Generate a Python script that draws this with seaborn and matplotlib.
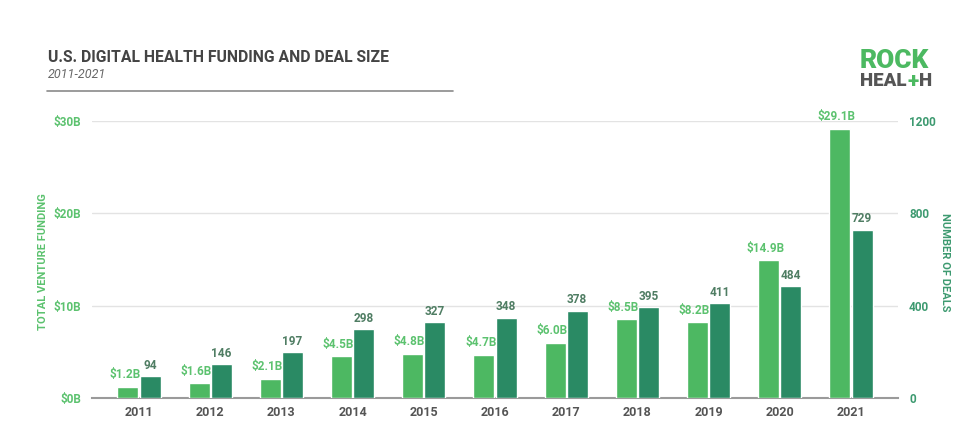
from matplotlib import pyplot as plt
import numpy as np
import pandas as pd
import seaborn as sns

years = ["2011", "2012", "2013", "2014", "2015", "2016", "2017", "2018", "2019", "2020", "2021"]
funding = [1.2, 1.6, 2.1, 4.5, 4.8, 4.7, 6.0, 8.5, 8.2, 14.9, 29.1]
deals = [94, 146, 197, 298, 327, 348, 378, 395, 411, 484, 729]
series = ["Funding", "Deals"]

LIGHT = "#4db862"
DARK = "#2a8a64"
LIGHT_TXT = "#5cc26f"
DARK_TXT = "#3d9a70"
DEAL_LBL = "#4f7d63"
GRAY = "#555555"

sns.set_style("white")
plt.rcParams["font.family"] = ["Roboto", "DejaVu Sans"]

n = len(years)
nan = [np.nan] * n
# each axis gets both hue levels so the dodge leaves room for the other series
df_fund = pd.DataFrame({"year": years * 2, "series": ["Funding"] * n + ["Deals"] * n,
                        "value": funding + nan})
df_deal = pd.DataFrame({"year": years * 2, "series": ["Funding"] * n + ["Deals"] * n,
                        "value": nan + deals})

fig = plt.figure(figsize=(9.69, 4.21), dpi=100)
ax = fig.add_axes([92 / 969, 23 / 421, (898 - 92) / 969, (398 - 120.7) / 421])
ax2 = ax.twinx()

pal = {"Funding": LIGHT, "Deals": DARK}
sns.barplot(data=df_fund, x="year", y="value", hue="series", hue_order=series,
            palette=pal, order=years, width=0.62, gap=0.05, ax=ax, legend=False,
            errorbar=None, saturation=1, zorder=3)
sns.barplot(data=df_deal, x="year", y="value", hue="series", hue_order=series,
            palette=pal, order=years, width=0.62, gap=0.05, ax=ax2, legend=False,
            errorbar=None, saturation=1, zorder=3)

ax.set_ylim(0, 30)
ax2.set_ylim(0, 1200)
ax.set_xlim(-0.66, 10.66)

# value labels (all drawn on the top axes so bars do not hide them)
for i, v in enumerate(funding):
    ax2.text(i - 0.2, v + 0.6, f"${v}B", ha="center", va="bottom",
             color=LIGHT_TXT, fontsize=8.5, fontweight="bold", clip_on=False,
             transform=ax.transData)
for i, v in enumerate(deals):
    ax2.text(i + 0.155, v + 18, str(v), ha="center", va="bottom",
             color=DEAL_LBL, fontsize=8.5, fontweight="bold", clip_on=False)

ax.set_yticks([0, 10, 20, 30])
ax.set_yticklabels(["$0B", "$10B", "$20B", "$30B"])
ax2.set_yticks([0, 400, 800, 1200])
ax.tick_params(axis="y", length=0, pad=8, labelsize=8.5, labelcolor=LIGHT_TXT)
ax2.tick_params(axis="y", length=0, pad=8, labelsize=8.5, labelcolor=DARK_TXT)
for lab in ax.get_yticklabels() + ax2.get_yticklabels():
    lab.set_fontweight("bold")
ax.tick_params(axis="x", length=0, pad=6, labelsize=9, labelcolor=GRAY)
for lab in ax.get_xticklabels():
    lab.set_fontweight("bold")

ax.grid(axis="y", color="#e3e3e3", linewidth=1, zorder=0)
ax2.grid(False)
ax.set_axisbelow(True)
for a in (ax, ax2):
    for s in a.spines.values():
        s.set_visible(False)
ax.spines["bottom"].set_visible(True)
ax.spines["bottom"].set_color("#9a9a9a")
ax.spines["bottom"].set_linewidth(1.5)
ax.set_xlabel("")
ax.set_ylabel("")
ax2.set_ylabel("")

fig.text(43.5 / 969, 1 - 262 / 421, "TOTAL VENTURE FUNDING", rotation=90,
         ha="center", va="center", color=LIGHT_TXT, fontsize=8, fontweight="bold")
fig.text(945 / 969, 1 - 262 / 421, "NUMBER OF DEALS", rotation=-90,
         ha="center", va="center", color=DARK_TXT, fontsize=8, fontweight="bold")

# title block
fig.text(48 / 969, 1 - 57 / 421, "U.S. DIGITAL HEALTH FUNDING AND DEAL SIZE",
         ha="left", va="center", color="#444444", fontsize=11.3, fontweight="bold")
fig.text(48 / 969, 1 - 75 / 421, "2011-2021", ha="left", va="center",
         color="#666666", fontsize=9, style="italic")
fig.add_artist(plt.Line2D([47 / 969, 453 / 969], [1 - 91 / 421, 1 - 91 / 421],
                          color="#8a8a8a", linewidth=1.2))

# logo
fig.text(860 / 969, 1 - 61 / 421, "ROCK", ha="left", va="center",
         color="#4cb961", fontsize=19, fontweight="black")
heal = fig.text(860 / 969, 1 - 81 / 421, "HEAL", ha="left", va="center",
                color="#555555", fontsize=13.5, fontweight="black")
fig.canvas.draw()
r = fig.canvas.get_renderer()
x0 = heal.get_window_extent(r).x1 / 969
plus = fig.text(x0 + 0.5 / 969, 1 - 81 / 421, "+", ha="left", va="center",
                color="#4cb961", fontsize=15, fontweight="black")
x1 = plus.get_window_extent(r).x1 / 969
fig.text(x1 + 0.5 / 969, 1 - 81 / 421, "H", ha="left", va="center",
         color="#555555", fontsize=13.5, fontweight="black")

fig.savefig("out.png", dpi=100)
